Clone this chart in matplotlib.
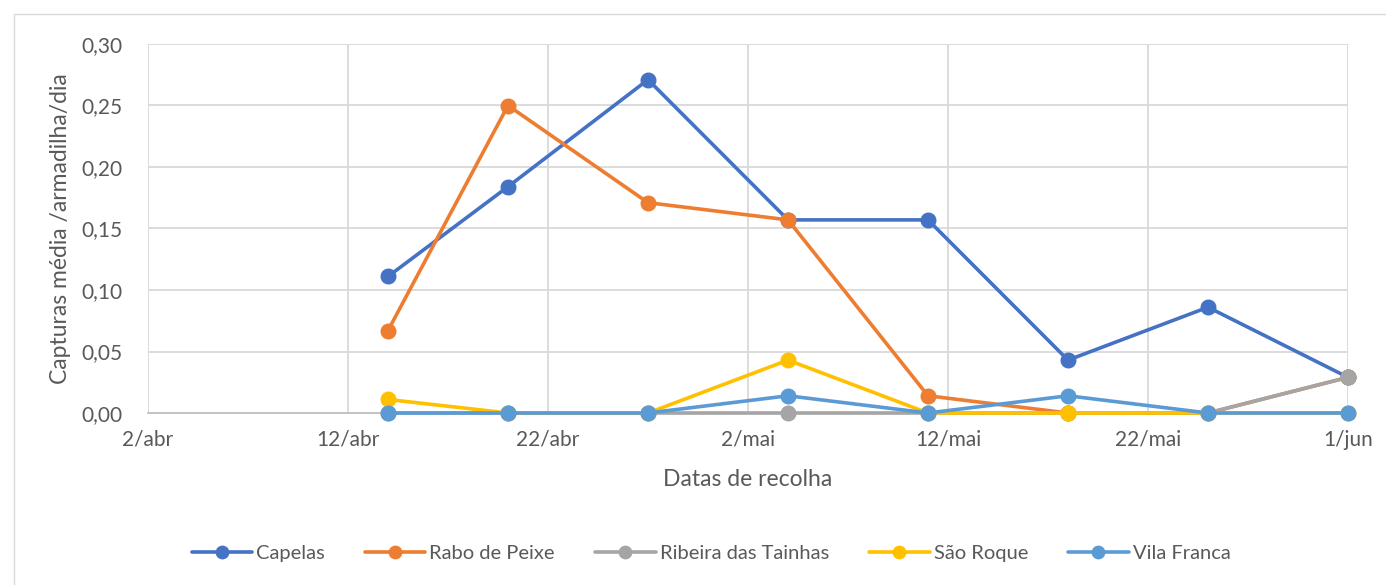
import datetime as dt
import matplotlib
matplotlib.use("Agg")
import matplotlib.pyplot as plt
import matplotlib.dates as mdates
from matplotlib.patches import Rectangle
from matplotlib.ticker import FuncFormatter, MultipleLocator

# --------------------------
# Data
# --------------------------
dates = ["2021-04-14", "2021-04-20", "2021-04-27", "2021-05-04",
         "2021-05-11", "2021-05-18", "2021-05-25", "2021-06-01"]

capelas = [0.111, 0.184, 0.271, 0.157, 0.157, 0.043, 0.086, 0.029]
rabo_de_peixe = [0.067, 0.250, 0.171, 0.157, 0.014, 0.0, 0.0, 0.029]
ribeira_das_tainhas = [0.0, 0.0, 0.0, 0.0, 0.0, 0.0, 0.0, 0.029]
sao_roque = [0.011, 0.0, 0.0, 0.043, 0.0, 0.0, 0.0, 0.0]
vila_franca = [0.0, 0.0, 0.0, 0.014, 0.0, 0.014, 0.0, 0.0]

series_names = ["Capelas", "Rabo de Peixe", "Ribeira das Tainhas", "São Roque", "Vila Franca"]
series_values = [capelas, rabo_de_peixe, ribeira_das_tainhas, sao_roque, vila_franca]
colors = ["#4472C4", "#ED7D31", "#A5A5A5", "#FFC000", "#5B9BD5"]

month_pt = {4: "abr", 5: "mai", 6: "jun"}

plt.rcParams['font.family'] = ['Lato', 'DejaVu Sans']
text_col = "#595959"
grid_col = "#D9D9D9"

# --------------------------
# Plot
# --------------------------
fig = plt.figure(figsize=(13.86, 5.85), dpi=100)
ax = fig.add_axes([148 / 1386, 1 - 413 / 585, 1200 / 1386, 369 / 585])

# outer chart border
fig.patches.append(Rectangle((14 / 1386, -0.01), 1.0, 1 - 14 / 585 + 0.01,
                             transform=fig.transFigure, fill=False,
                             edgecolor=grid_col, linewidth=1.0))

x = [dt.datetime.strptime(d, "%Y-%m-%d") for d in dates]
for name, vals, c in zip(series_names, series_values, colors):
    ax.plot(x, vals, color=c, linewidth=2.6, marker="o", markersize=10.5,
            label=name, solid_capstyle="round", clip_on=False, zorder=3)

ax.set_xlim(dt.datetime(2021, 4, 2), dt.datetime(2021, 6, 1))
ax.set_ylim(0, 0.30)
ticks = [dt.datetime(2021, 4, 2) + dt.timedelta(days=10 * i) for i in range(7)]
ax.set_xticks(ticks)
ax.xaxis.set_major_formatter(FuncFormatter(
    lambda v, p: f"{mdates.num2date(v).day}/{month_pt[mdates.num2date(v).month]}"))
ax.yaxis.set_major_locator(MultipleLocator(0.05))
ax.yaxis.set_major_formatter(FuncFormatter(lambda v, p: f"{v:.2f}".replace(".", ",")))

ax.grid(True, color=grid_col, linewidth=1.3)
ax.set_axisbelow(True)
for s in ["top", "right", "left"]:
    ax.spines[s].set_visible(False)
ax.spines["bottom"].set_color("#BFBFBF")
ax.spines["bottom"].set_linewidth(1.3)
ax.spines["bottom"].set_zorder(1)
ax.tick_params(length=0, labelsize=15, labelcolor=text_col)
ax.tick_params(axis="x", pad=12)
ax.tick_params(axis="y", pad=18)

ax.set_xlabel("Datas de recolha", fontsize=16.5, color=text_col, labelpad=14)
ax.set_ylabel("Capturas média /armadilha/dia", fontsize=16.5, color=text_col, labelpad=8)

fig.legend(loc="center", bbox_to_anchor=(711 / 1386, 1 - 553 / 585), ncol=5, frameon=False,
           fontsize=14.5, labelcolor=text_col, handlelength=3.0, handletextpad=0.2,
           columnspacing=2.0, markerscale=0.85)

fig.savefig("out.png", dpi=100)
